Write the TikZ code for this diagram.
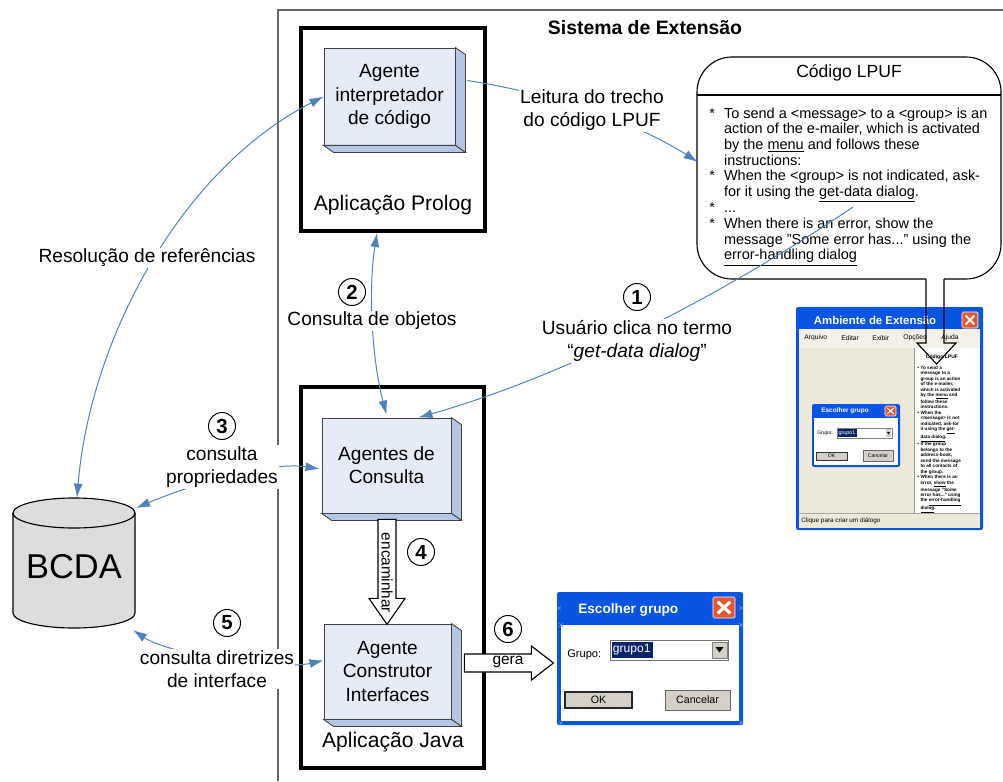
\documentclass[tikz,border=0pt]{standalone}
\usepackage{fontspec}
\setmainfont{Liberation Sans}
\usepackage{tikz}
\usetikzlibrary{positioning,fit,arrows.meta}
\definecolor{linkblue}{RGB}{79,129,189}
\definecolor{facefront}{RGB}{230,236,247}
\definecolor{faceside}{RGB}{180,199,231}
\definecolor{xpblue}{RGB}{8,84,227}
\definecolor{xpred}{RGB}{226,88,48}
\definecolor{xpbeige}{RGB}{236,233,216}
\definecolor{xpmenu}{RGB}{243,241,232}
\definecolor{xpgray}{RGB}{212,208,200}
\definecolor{selnavy}{RGB}{10,36,106}
\definecolor{dbgray}{RGB}{221,221,221}
\definecolor{handleblue}{RGB}{110,140,230}

\newcommand{\sidefaces}[1]{%
\draw[side] (#1.north east) -- ([shift={(10,7)}]#1.north east) -- ([shift={(10,7)}]#1.south east) -- (#1.south east) -- cycle;
\draw[side] (#1.south west) -- ([shift={(10,7)}]#1.south west) -- ([shift={(10,7)}]#1.south east) -- (#1.south east) -- cycle;
}
\newcommand{\closex}[3]{%
\draw[white, line width=#3] ([shift={(#2,#2)}]#1.north west) -- ([shift={(-#2,-#2)}]#1.south east)
 ([shift={(-#2,#2)}]#1.north east) -- ([shift={(#2,-#2)}]#1.south west);
}
\newcommand{\hmark}[2]{\draw[handle] (#1-2,#2-2) -- (#1+2,#2+2) (#1-2,#2+2) -- (#1+2,#2-2);}

\tikzset{>={Latex[length=10pt,width=6.5pt]},
agent/.style={draw=black!75, line width=0.6pt, fill=facefront, inner sep=0pt},
agenttext/.style={align=center, font=\fontsize{13.6}{16.5}\selectfont},
side/.style={fill=faceside, draw=black!75, line width=0.6pt},
appframe/.style={draw, line width=2.8pt, inner sep=0pt},
link/.style={draw=linkblue, line width=0.7pt},
lbl/.style={fill=white, inner sep=0.8pt, align=center, font=\fontsize{13.6}{16.5}\selectfont},
num/.style={circle, draw, line width=0.7pt, fill=white, inner sep=0pt, minimum size=0.675cm, font=\bfseries\fontsize{14.5}{14.5}\selectfont},
blockarrow/.style={draw, line width=0.8pt, fill=white, line join=miter},
win/.style={fill=xpblue, inner sep=0pt, rounded corners=1.5pt},
xclose/.style={fill=xpred, draw=white, line width=0.4pt, rounded corners=1pt, inner sep=0pt},
btn/.style={fill=xpgray, draw=black!60, line width=0.5pt, inner sep=0pt},
handle/.style={draw=handleblue, line width=0.5pt},
menu/.style={anchor=west, inner sep=0pt, font=\fontsize{4.8}{6}\selectfont},
}

\begin{document}
\begin{tikzpicture}[x=0.025cm,y=-0.025cm]
\useasboundingbox (0,0) rectangle (1003,781);

\draw[black!60, line width=0.8pt] (278,781) -- (278,10) -- (1003,10);
\node[font=\bfseries\fontsize{13.8}{16}\selectfont] (sys) at (645,28) {Sistema de Extensão};

\node[appframe, fit={(301,28) (485,231)}] (prolog) {};
\node[appframe, fit={(301,387) (484,768)}] (java) {};
\node[font=\fontsize{15}{18}\selectfont] (prologlbl) at (393,205) {Aplicação Prolog};
\node[font=\fontsize{15}{18}\selectfont] (javalbl) at (393,742) {Aplicação Java};

\node[agent, fit={(324,48) (455,145)}] (interp) {};
\sidefaces{interp}
\node[agenttext] at (interp) {Agente\\interpretador\\de código};
\node[agent, fit={(322,418) (451,513)}] (cons) {};
\sidefaces{cons}
\node[agenttext] at (cons) {Agentes de\\Consulta};
\node[agent, fit={(324,624) (451,719)}] (ctor) {};
\sidefaces{ctor}
\node[agenttext] at (ctor) {Agente\\Construtor\\Interfaces};

\path[fill=dbgray, draw=black, line width=0.8pt] (13,513) -- (13,613)
 arc[start angle=180, end angle=360, x radius=1.525cm, y radius=0.375cm] -- (135,513)
 arc[start angle=0, end angle=180, x radius=1.525cm, y radius=0.375cm] -- cycle;
\draw[line width=0.8pt] (13,513) arc[start angle=180, end angle=360, x radius=1.525cm, y radius=0.375cm];
\node[fit={(13,502) (135,628)}, inner sep=0pt] (bcda) {};
\node[font=\fontsize{24.5}{28}\selectfont] (bcdalbl) at (74,567) {BCDA};
\coordinate (bcdane) at (136,508);
\coordinate (bcdase) at (133,630);

\node[fit={(697,57) (1001,279)}, inner sep=0pt] (lpuf) {};
\draw[line width=0.8pt, rounded corners=0.875cm] (926,279) -- (697,279) -- (697,57) -- (1001,57) -- (1001,279) -- (944,279);
\draw[line width=0.8pt] (697,95) -- (1001,95);
\node[font=\fontsize{12.5}{15}\selectfont] (lpuftitle) at (849,73) {Código LPUF};
\node[anchor=north west, inner sep=0pt, font=\fontsize{10.3}{11.1}\selectfont] (lpuftext) at (709,107) {%
\begin{tabular}{@{}l@{\hspace{6.5pt}}l@{}}
{*} & To send a <message> to a <group> is an\\
    & action of the e-mailer, which is activated\\
    & by the \underline{menu} and follows these\\
    & instructions:\\
{*} & When the <group> is not indicated, ask-\\
    & for it using the \underline{get-data dialog}.\\
{*} & ...\\
{*} & When there is an error, show the\\
    & message "Some error has..." using the\\
    & \underline{error-handling dialog}\\
\end{tabular}};
\coordinate (getdata) at (853,207);

\node[win, fit={(796,307) (983,530)}] (amb) {};
\fill[xpmenu] (799,329) rectangle (980,348);
\fill[xpbeige] (799,348) rectangle (914,513);
\fill[white] (914,348) rectangle (980,513);
\draw[black!40, line width=0.4pt] (914,348) -- (914,513);
\fill[xpbeige] (799,513) rectangle (980,528);
\draw[black!35, line width=0.4pt] (799,513) -- (980,513);
\node[anchor=west, text=white, font=\bfseries\fontsize{8.1}{10}\selectfont] (ambtitle) at (809,320) {Ambiente de Extensão};
\node[xclose, fit={(962,312) (978,328)}] (ambx) {};
\closex{ambx}{4}{1.4pt}
\node[menu] at (804,338) {Arquivo};
\node[menu] at (841,338) {Editar};
\node[menu] at (872,338) {Exibir};
\node[menu] at (903,338) {Opções};
\node[menu] at (941,338) {Ajuda};
\node[anchor=west, inner sep=0pt, font=\fontsize{4.5}{6}\selectfont] (status) at (801,521) {Clique para criar um diálogo};
\node[font=\bfseries\fontsize{3.6}{4}\selectfont] (panetitle) at (942,357) {Código LPUF};
\node[anchor=north west, inner sep=0pt, font=\bfseries\fontsize{3.3}{3.9}\selectfont] (panetext) at (917,365) {%
\begin{tabular}{@{}l@{\hspace{1.2pt}}l@{}}
• & To send a\\
  & message to a\\
  & group is an action\\
  & of the e-mailer,\\
  & which is activated\\
  & by the \underline{menu} and\\
  & follow these\\
  & instructions:\\
• & When the\\
  & <message> is not\\
  & indicated, ask-for\\
  & it using the \underline{get-}\\
  & \underline{data dialog}.\\
• & If the group\\
  & belongs to the\\
  & address-book,\\
  & send the message\\
  & to all contacts of\\
  & the group.\\
• & When there is an\\
  & error, \underline{show} the\\
  & message "Some\\
  & error has..." using\\
  & the \underline{error-handling}\\
  & \underline{dialog}.\\
\end{tabular}};

\node[win, fit={(812,404) (900,467)}] (smalldlg) {};
\fill[white] (814,418) rectangle (898,465);
\node[anchor=west, inner sep=0pt, text=white, font=\bfseries\fontsize{4.6}{6}\selectfont] at (821,411) {Escolher grupo};
\node[xclose, fit={(885,406) (896,416)}] (smallx) {};
\closex{smallx}{2.5}{0.8pt}
\node[anchor=west, inner sep=0pt, font=\fontsize{3.6}{5}\selectfont] at (817,433) {Grupo:};
\draw[black!50, fill=white, line width=0.3pt] (837,428) rectangle (892,438);
\fill[selnavy] (838,429) rectangle (857,437);
\node[anchor=west, inner sep=0.3pt, text=white, font=\fontsize{3.8}{5}\selectfont] at (838,433) {grupo1};
\fill[xpgray] (886,429) rectangle (891,437);
\fill (887,432) -- (890,432) -- (888.5,434.5) -- cycle;
\node[btn, draw=black!80, line width=0.6pt, fit={(816,452) (847,460)}] (smallok) {};
\node[font=\fontsize{3.6}{4}\selectfont] at (smallok) {OK};
\node[btn, fit={(863,450) (893,461)}] (smallcanc) {};
\node[font=\fontsize{3.6}{4}\selectfont] at (smallcanc) {Cancelar};

\draw[line width=0.8pt, line join=miter] (926,279) -- (926,343) -- (917,343) -- (936.5,364) -- (956,343) -- (944,343) -- (944,279);

\node[win, fit={(557,592) (743,725)}] (dlg) {};
\fill[white] (561,625) rectangle (739,721);
\node[anchor=west, inner sep=0pt, text=white, font=\bfseries\fontsize{9.7}{12}\selectfont] (dlgtitle) at (578,610) {Escolher grupo};
\node[xclose, fit={(713,597) (735,618)}] (dlgx) {};
\closex{dlgx}{5}{2.2pt}
\node[anchor=west, inner sep=0pt, font=\fontsize{7.9}{10}\selectfont] (grupolbl) at (567,655) {Grupo:};
\draw[black!55, fill=white, line width=0.6pt] (610,640) rectangle (728,660);
\fill[selnavy] (612,642) rectangle (653,658);
\node[anchor=west, inner sep=0.5pt, text=white, font=\fontsize{8.6}{10}\selectfont] at (612,650) {grupo1};
\draw[black!50, fill=xpgray, line width=0.4pt] (712,642) rectangle (727,658);
\fill (715.5,647) -- (723.5,647) -- (719.5,652.5) -- cycle;
\node[btn, draw=black!85, line width=1.2pt, fit={(565,692) (632,708)}] (okbtn) {};
\node[font=\fontsize{7.6}{9}\selectfont] at (okbtn) {OK};
\node[btn, fit={(665,690) (730,710)}] (cancbtn) {};
\node[font=\fontsize{7.6}{9}\selectfont] at (cancbtn) {Cancelar};
\hmark{559}{608} \hmark{741}{608} \hmark{561}{625} \hmark{741}{625} \hmark{561}{723} \hmark{741}{723}

\draw[blockarrow] ([shift={(-8.5,6)}]cons.south) -- ++(0,79) -- ++(-9,0) -- ++(18,26) -- ++(18,-26) -- ++(-9,0) -- ++(0,-79) -- cycle;
\node[rotate=-90, font=\fontsize{10.9}{13}\selectfont] (encam) at (387,573) {encaminhar};
\draw[blockarrow] ([shift={(13,-17.5)}]ctor.east) -- ++(67,0) -- ++(0,-8) -- ++(22,17) -- ++(-22,17) -- ++(0,-8) -- ++(-67,0) -- cycle;
\node[font=\fontsize{11}{13}\selectfont] (gera) at (508,662) {gera};

\draw[link,<->] ([shift={(3,-4)}]bcda.north) .. controls (90,340) and (180,170) .. (interp.west);
\draw[link,->] ([shift={(12,-16)}]interp.east) .. controls (560,95) and (640,125) .. ([shift={(1,-6)}]lpuf.west);
\draw[link,<->] ([shift={(-16,0)}]prolog.south) .. controls (368,290) and (372,360) .. ([shift={(0,-3)}]cons.north);
\draw[link,->] (getdata) .. controls (700,310) and (550,380) .. ([shift={(-33,0)}]cons.north east);
\draw[link,<->] (bcdane) .. controls (190,485) and (270,461) .. ([shift={(-2,3.5)}]cons.west);
\draw[link,<->] (bcdase) .. controls (170,655) and (280,670) .. ([shift={(0,-11)}]ctor.west);

\node[lbl] (resol) at (147,258) {Resolução de referências};
\node[lbl] (leitura) at (592,110) {Leitura do trecho\\do código LPUF};
\node[lbl] (consobj) at (372,321) {Consulta de objetos};
\node[lbl] (clica) at (637,341) {Usuário clica no termo\\“\textit{get-data dialog}”};
\node[lbl] (cprop) at (222,467) {consulta\\propriedades};
\node[lbl] (cdir) at (217,669) {consulta diretrizes\\de interface};

\node[num] (n1) at (637,297) {1};
\node[num] (n2) at (352,292) {2};
\node[num] (n3) at (222,426) {3};
\node[num] (n4) at (421,552) {4};
\node[num] (n5) at (227,623) {5};
\node[num] (n6) at (508,629) {6};
\end{tikzpicture}
\end{document}
